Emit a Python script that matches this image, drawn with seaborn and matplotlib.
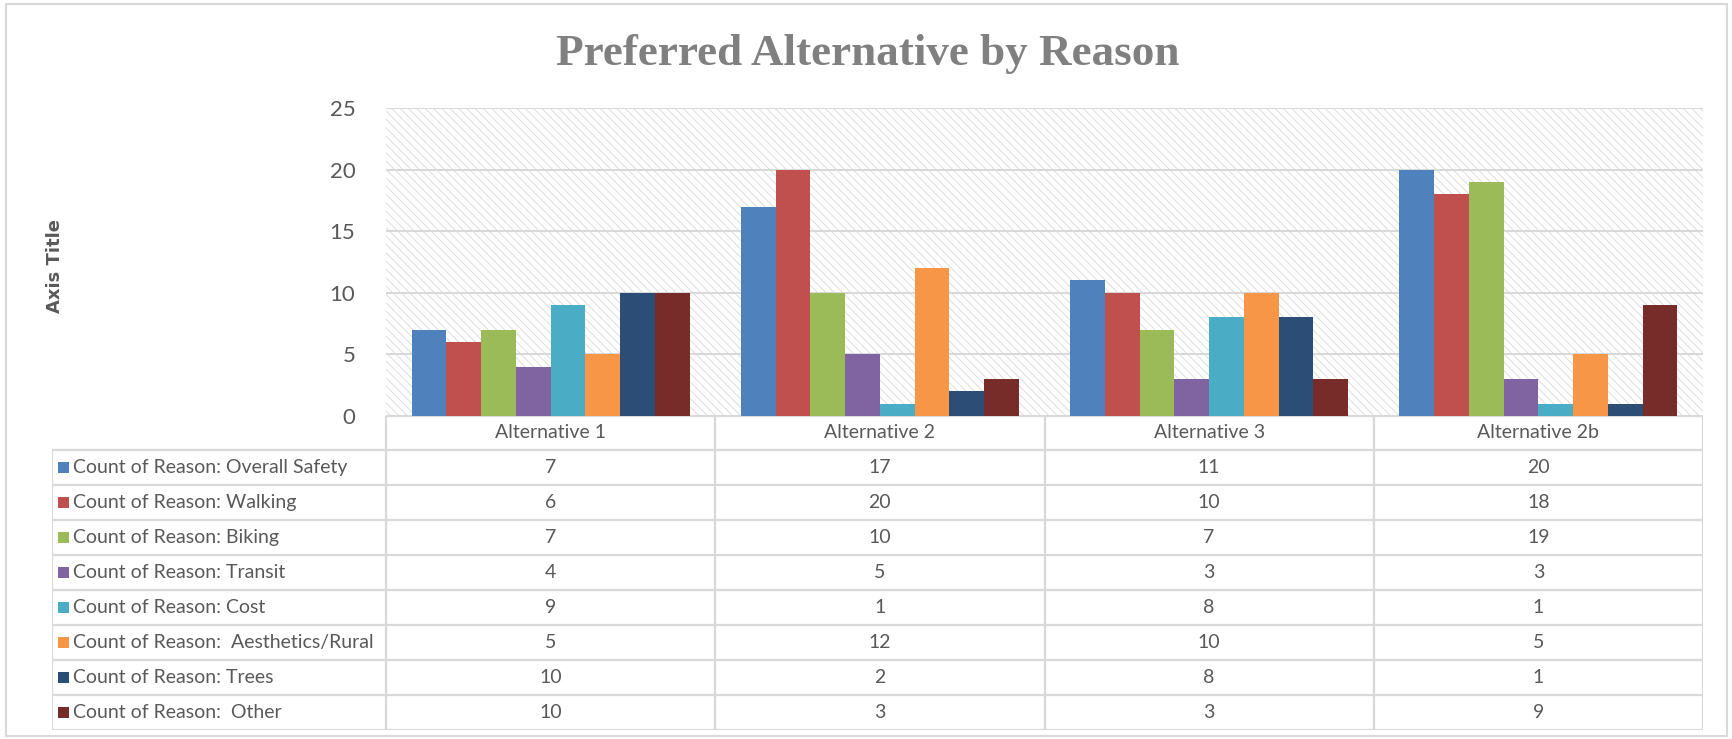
import matplotlib
matplotlib.use("Agg")
import matplotlib.pyplot as plt
import seaborn as sns
import pandas as pd
from matplotlib.patches import Rectangle

categories = ["Alternative 1", "Alternative 2", "Alternative 3", "Alternative 2b"]
series_names = [
    "Count of Reason: Overall Safety",
    "Count of Reason: Walking",
    "Count of Reason: Biking",
    "Count of Reason: Transit",
    "Count of Reason: Cost",
    "Count of Reason:  Aesthetics/Rural",
    "Count of Reason: Trees",
    "Count of Reason:  Other",
]
overall_safety = [7, 17, 11, 20]
walking = [6, 20, 10, 18]
biking = [7, 10, 7, 19]
transit = [4, 5, 3, 3]
cost = [9, 1, 8, 1]
aesthetics = [5, 12, 10, 5]
trees = [10, 2, 8, 1]
other = [10, 3, 3, 9]
y_ticks = [0, 5, 10, 15, 20, 25]
colors = ["#4F81BD", "#C0504D", "#9BBB59", "#8064A2", "#4BACC6", "#F79646", "#2C4D75", "#772C2A"]

series_values = [overall_safety, walking, biking, transit, cost, aesthetics, trees, other]

rows = []
for name, vals in zip(series_names, series_values):
    for cat, v in zip(categories, vals):
        rows.append({"category": cat, "series": name, "value": v})
df = pd.DataFrame(rows)

sns.set_theme(style="white")
plt.rcParams["font.family"] = ["Lato", "DejaVu Sans"]
plt.rcParams["hatch.linewidth"] = 0.6
plt.rcParams["hatch.color"] = "#d9d9d9"

W, H = 1732, 739
fig = plt.figure(figsize=(W / 100, H / 100), dpi=100)
fig.patch.set_facecolor("white")


def px(x0, y0, x1, y1):
    return [x0 / W, 1 - y1 / H, (x1 - x0) / W, (y1 - y0) / H]


TXT = "#595959"
GRID = "#d9d9d9"
FS = 14

# outer chart border
fig.add_artist(Rectangle((6 / W, 1 - 736 / H), (1727 - 6) / W, (736 - 4) / H,
                         transform=fig.transFigure, fill=False, edgecolor=GRID, lw=1.5))

PL, PT, PR, PB = 386, 108, 1703, 416
ax = fig.add_axes(px(PL, PT, PR, PB))
ax.add_patch(Rectangle((0, 0), 1, 1, transform=ax.transAxes, facecolor="white",
                       edgecolor="#d9d9d9", hatch="\\\\\\\\", lw=0, zorder=0.1))
sns.barplot(data=df, x="category", y="value", hue="series", order=categories,
            hue_order=series_names, palette=colors, saturation=1, width=0.845,
            gap=0, legend=False, ax=ax, edgecolor="none", linewidth=0, zorder=2)
ax.set_xlim(-0.5, len(categories) - 0.5)
ax.set_ylim(0, 25)
ax.set_yticks(y_ticks)
ax.set_yticklabels([str(t) for t in y_ticks], fontsize=16, color=TXT)
ax.tick_params(axis="y", length=0, pad=22)
ax.set_xticks([])
ax.set_xlabel("")
ax.set_ylabel("")
for s in ax.spines.values():
    s.set_visible(False)
ax.set_axisbelow(True)
ax.yaxis.grid(True, color=GRID, lw=1.5, zorder=0.5)

# title and axis title
fig.text(868 / W, 1 - 54 / H, "Preferred Alternative by Reason", ha="center", va="center",
         fontsize=32.5, fontweight="bold", color="#808080", family=["Liberation Serif"])
fig.text(55 / W, 1 - 266 / H, "Axis Title", rotation=90, ha="center", va="center",
         fontsize=13, fontweight="bold", color=TXT, family=["DejaVu Sans"])

# data table
TL, TT, TR, TB = 52, 416, 1703, 730
tab = fig.add_axes(px(TL, TT, TR, TB))
tab.set_xlim(TL, TR)
tab.set_ylim(TB, TT)
tab.axis("off")
ncat = len(categories)
colw = (PR - PL) / ncat
header_h = 34
row_h = (TB - TT - header_h) / len(series_names)
lw = 1.6
# header row
tab.plot([PL, PR], [TT, TT], color=GRID, lw=lw, solid_capstyle="butt")
for i in range(ncat + 1):
    x = PL + i * colw
    tab.plot([x, x], [TT, TB], color=GRID, lw=lw, solid_capstyle="butt")
for i, cat in enumerate(categories):
    tab.text(PL + (i + 0.5) * colw, TT + header_h / 2, cat, ha="center", va="center",
             fontsize=FS, color=TXT)
# body rows
tab.plot([TL, TL], [TT + header_h, TB], color=GRID, lw=lw, solid_capstyle="butt")
for r in range(len(series_names) + 1):
    y = TT + header_h + r * row_h
    tab.plot([TL, PR], [y, y], color=GRID, lw=lw, solid_capstyle="butt")
for r, (name, vals, c) in enumerate(zip(series_names, series_values, colors)):
    yc = TT + header_h + (r + 0.5) * row_h
    tab.add_patch(Rectangle((58, yc - 5.5), 11, 11, facecolor=c, edgecolor="none"))
    tab.text(73, yc, name, ha="left", va="center", fontsize=FS, color=TXT)
    for i, v in enumerate(vals):
        tab.text(PL + (i + 0.5) * colw, yc, str(v), ha="center", va="center",
                 fontsize=FS, color=TXT)

fig.savefig("out.png", dpi=100)
